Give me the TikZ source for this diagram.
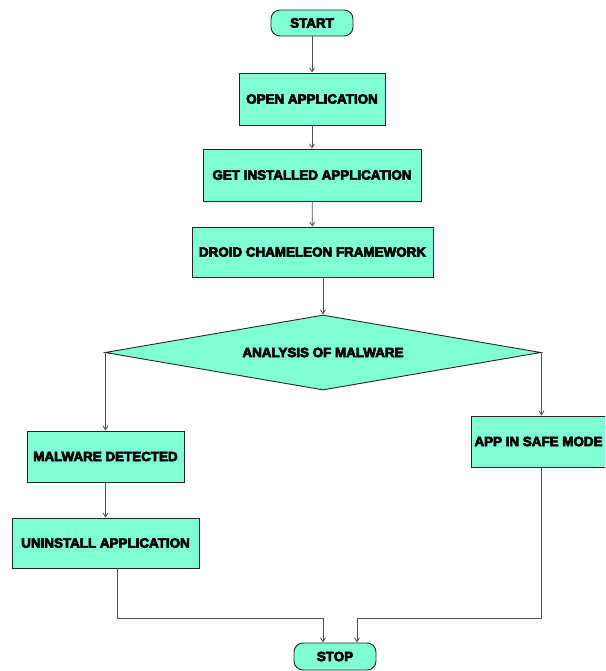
\documentclass[tikz,border=0pt]{standalone}
\usepackage{fontspec}
\newfontfamily\heavyfont{Liberation Sans}[UprightFont=*-Bold, FakeBold=5]
\usetikzlibrary{shapes.geometric,arrows.meta}
\definecolor{boxfill}{HTML}{80FFD4}
\definecolor{linegray}{HTML}{505050}
\tikzset{
  box/.style={draw=black!85, fill=boxfill, line width=0.9pt, inner sep=0pt, font=\fontsize{13.4}{15}\heavyfont},
  term/.style={box, rounded corners=9pt},
  decision/.style={box, diamond, aspect=5.8, minimum width=436pt, minimum height=75pt},
  arr/.style={draw=linegray, line width=0.8pt, -{Straight Barb[length=4pt,width=5pt]}}
}
\begin{document}
\begin{tikzpicture}[x=1pt,y=-1pt]
\useasboundingbox (0,0) rectangle (605,671);
\clip (0,0) rectangle (605,671);
\node[term, minimum width=82pt, minimum height=26pt] (start) at (312,23) {START};
\node[box, minimum width=146pt, minimum height=52pt] (open) at (312,99) {OPEN APPLICATION};
\node[box, minimum width=218pt, minimum height=52pt] (get) at (312,175) {GET INSTALLED APPLICATION};
\node[box, minimum width=241pt, minimum height=50pt] (droid) at (312.5,252) {DROID CHAMELEON FRAMEWORK};
\node[decision] (dia) at (323,352.5) {ANALYSIS OF MALWARE};
\node[box, minimum width=157pt, minimum height=51pt] (malw) at (105.5,456.5) {MALWARE DETECTED};
\node[box, minimum width=187pt, minimum height=50pt] (unin) at (105.5,543) {UNINSTALL APPLICATION};
\node[box, minimum width=141pt, minimum height=51pt] (safe) at (541.5,441.5) {\hspace*{-6pt}APP IN SAFE MODE};
\node[term, minimum width=82pt, minimum height=27pt] (stop) at (335,656.5) {STOP};
\coordinate (jl) at (117,618);
\coordinate (jr) at (541.5,618);
\draw[arr] (start) -- (open);
\draw[arr] (open) -- (get);
\draw[arr] (get) -- (droid);
\draw[arr] (dia.north |- droid.south) -- (dia.north);
\draw[arr] (dia.west) -| (malw.north);
\draw[arr] (dia.east) -| (safe.north);
\draw[arr] (malw) -- (unin);
\draw[arr] (unin.south -| jl) -- (jl) -| ([xshift=-12pt]stop.north);
\draw[arr] (safe.south) -- (jr) -| ([xshift=22pt]stop.north);
\end{tikzpicture}
\end{document}
